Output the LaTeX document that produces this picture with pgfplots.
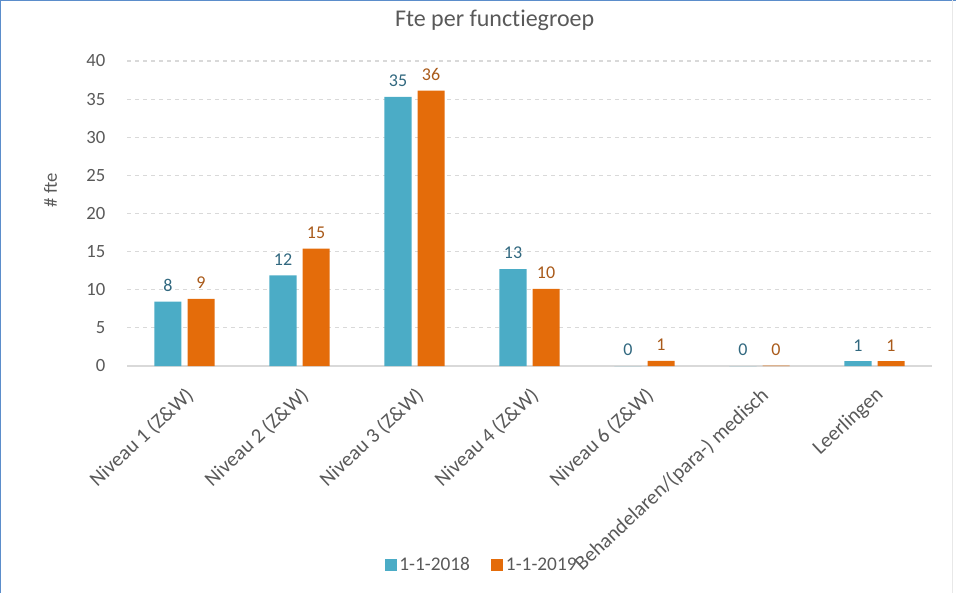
\documentclass[border=0pt]{standalone}
\usepackage{pgfplots}
\pgfplotsset{compat=1.18}
\usepackage{fontspec}
\setmainfont{Carlito}[Ligatures={NoCommon,NoRequired,NoContextual}]
\definecolor{teal18}{HTML}{4BACC6}
\definecolor{orange19}{HTML}{E46C0A}
\definecolor{tealtxt}{HTML}{31687F}
\definecolor{orangetxt}{HTML}{A95A1A}
\definecolor{txtgrey}{HTML}{595959}
\definecolor{gridgrey}{HTML}{D9D9D9}
\definecolor{framblue}{HTML}{5B8DCB}
\begin{document}
\begin{tikzpicture}
\path[use as bounding box] (0,0) rectangle (717pt,444.75pt);
\begin{axis}[
  at={(95.25pt,170.25pt)}, anchor=south west,
  scale only axis, width=603.75pt, height=228.75pt,
  ybar=4.5pt, bar width=20.25pt,
  xmin=-0.5, xmax=6.5, ymin=0, ymax=40,
  ytick={0,5,...,40},
  xtick={0,...,6},
  xticklabels={Niveau 1 (Z\&W),Niveau 2 (Z\&W),Niveau 3 (Z\&W),Niveau 4 (Z\&W),Niveau 6 (Z\&W),Behandelaren/(para-) medisch,Leerlingen},
  x tick label style={rotate=43, anchor=north east, font=\fontsize{15.5}{18}\selectfont, text=txtgrey, inner sep=2pt, yshift=-8.5pt, xshift=-8pt},
  y tick label style={font=\fontsize{14}{16}\selectfont, text=txtgrey, xshift=-12.75pt},
  /pgf/number format/assume math mode=true,
  major tick length=0pt,
  axis y line*=left,
  y axis line style={draw=none},
  axis x line*=bottom,
  x axis line style={draw=gridgrey, line width=0.9pt, -},
  ymajorgrids, grid style={dashed, gridgrey, line width=0.8pt},
  ylabel={\# fte},
  ylabel style={at={(axis description cs:-0.095,0.577)}, anchor=center, font=\fontsize{14}{16}\selectfont, text=txtgrey},
  title={Fte per functiegroep},
  title style={at={(axis description cs:0.4567,1.108)}, anchor=center, font=\fontsize{18}{21}\selectfont, text=txtgrey},
  nodes near coords,
  nodes near coords style={font=\fontsize{13.5}{15}\selectfont, yshift=4pt, /pgf/number format/fixed, /pgf/number format/precision=0, /pgf/number format/assume math mode=true},
  legend style={at={(0.441,-0.652)}, anchor=center, draw=none, fill=none, legend columns=2, font=\fontsize{14.5}{17}\selectfont, text=txtgrey, /tikz/every even column/.append style={column sep=14pt}},
  legend image code/.code={\fill[#1] (0pt,-4.5pt) rectangle (9pt,4.5pt);},
  clip=false,
]
\addplot[fill=teal18, draw=none, nodes near coords style={text=tealtxt}] coordinates {(0,8.45) (1,11.9) (2,35.3) (3,12.7) (4,0) (5,0) (6,0.65)};
\addplot[fill=orange19, draw=none, nodes near coords style={text=orangetxt}] coordinates {(0,8.8) (1,15.4) (2,36.1) (3,10.1) (4,0.66) (5,0.05) (6,0.65)};
\legend{1-1-2018,1-1-2019}
\end{axis}
\draw[framblue, line width=1.5pt] (0,0) -- (0,444.75pt) -- (717pt,444.75pt);
\draw[gridgrey!60, line width=0.8pt] (714.5pt,0) -- (714.5pt,444.75pt);
\end{tikzpicture}
\end{document}
